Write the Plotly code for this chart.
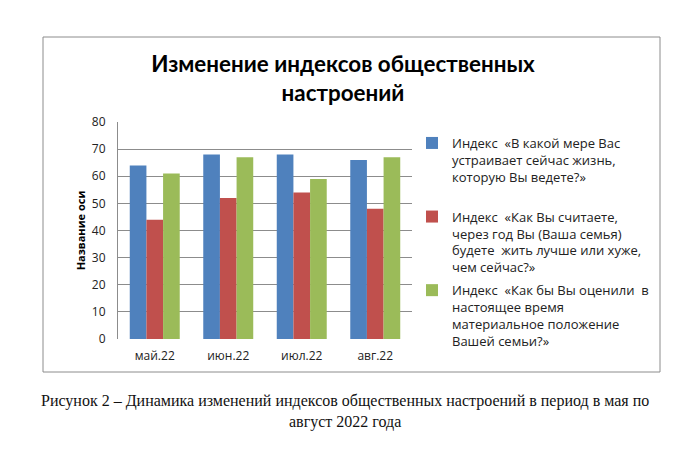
import plotly.graph_objects as go

categories = ["май.22", "июн.22", "июл.22", "авг.22"]
series_names = [
    "Индекс  «В какой мере Вас<br>устраивает сейчас жизнь,<br>которую Вы ведете?»<br> ",
    "Индекс  «Как Вы считаете,<br>через год Вы (Ваша семья)<br>будете  жить лучше или хуже,<br>чем сейчас?»",
    "Индекс  «Как бы Вы оценили  в<br>настоящее время<br>материальное положение<br>Вашей семьи?»",
]
s1 = [64, 68, 68, 66]
s2 = [44, 52, 54, 48]
s3 = [61, 67, 59, 67]
colors = ["#4F81BD", "#C0504D", "#9BBB59"]
y_ticks = [0, 10, 20, 30, 40, 50, 60, 70, 80]

fig = go.Figure()
for i, (name, vals) in enumerate(zip(series_names, [s1, s2, s3])):
    fig.add_trace(go.Bar(x=categories, y=vals, name=name, marker_color=colors[i],
                         marker_line_width=0, legendgroup=str(i)))

W, H = 689, 461
L, R, T, B = 118, 412, 122, 339
def px(x):
    return (x - L) / (R - L)
def py(y):
    return (B - y) / (B - T)

fig.update_layout(
    width=W, height=H,
    margin=dict(l=L, r=W - R, t=T, b=H - B),
    paper_bgcolor="white", plot_bgcolor="white",
    font=dict(family="Open Sans, sans-serif", color="#222"),
    barmode="group", bargap=0.32, bargroupgap=0,
    title=dict(text="<b>Изменение индексов общественных<br>настроений</b>",
               font=dict(family="Lato, sans-serif", size=22.4, color="#000"),
               x=343 / W, xanchor="center",
               y=1 - 72 / H, yanchor="top"),
    legend=dict(x=px(412), xanchor="left", y=py(128), yanchor="top",
                font=dict(size=13, color="#222"), tracegroupgap=3,
                bgcolor="rgba(0,0,0,0)", itemwidth=30, valign="top",
                maxheight=400),
    xaxis=dict(showline=False, ticks="", tickfont=dict(size=12, color="#222"),
               ticklabelstandoff=8),
    yaxis=dict(range=[0, 80], tickvals=y_ticks, showgrid=True, gridcolor="#8c8c8c",
               gridwidth=1, showline=True, linecolor="#8c8c8c", ticks="",
               ticklabelstandoff=9, tickfont=dict(size=12, color="#222"),
               title=dict(text="<b>Название оси</b>", font=dict(size=11, color="#000"),
                          standoff=4), zeroline=False),
    showlegend=True,
)
fig.add_shape(type="rect", xref="paper", yref="paper",
              x0=px(43), x1=px(660), y0=py(372), y1=py(37),
              line=dict(color="#8c8c8c", width=1), fillcolor="rgba(0,0,0,0)", layer="below")
fig.add_annotation(xref="paper", yref="paper", x=px(345), y=py(411),
                   text="Рисунок 2 – Динамика изменений индексов общественных настроений в период в мая по<br>август 2022 года",
                   showarrow=False, xanchor="center", yanchor="middle",
                   font=dict(family="Liberation Serif, Times New Roman, serif", size=16, color="#111"))

fig.write_html("out.html")
